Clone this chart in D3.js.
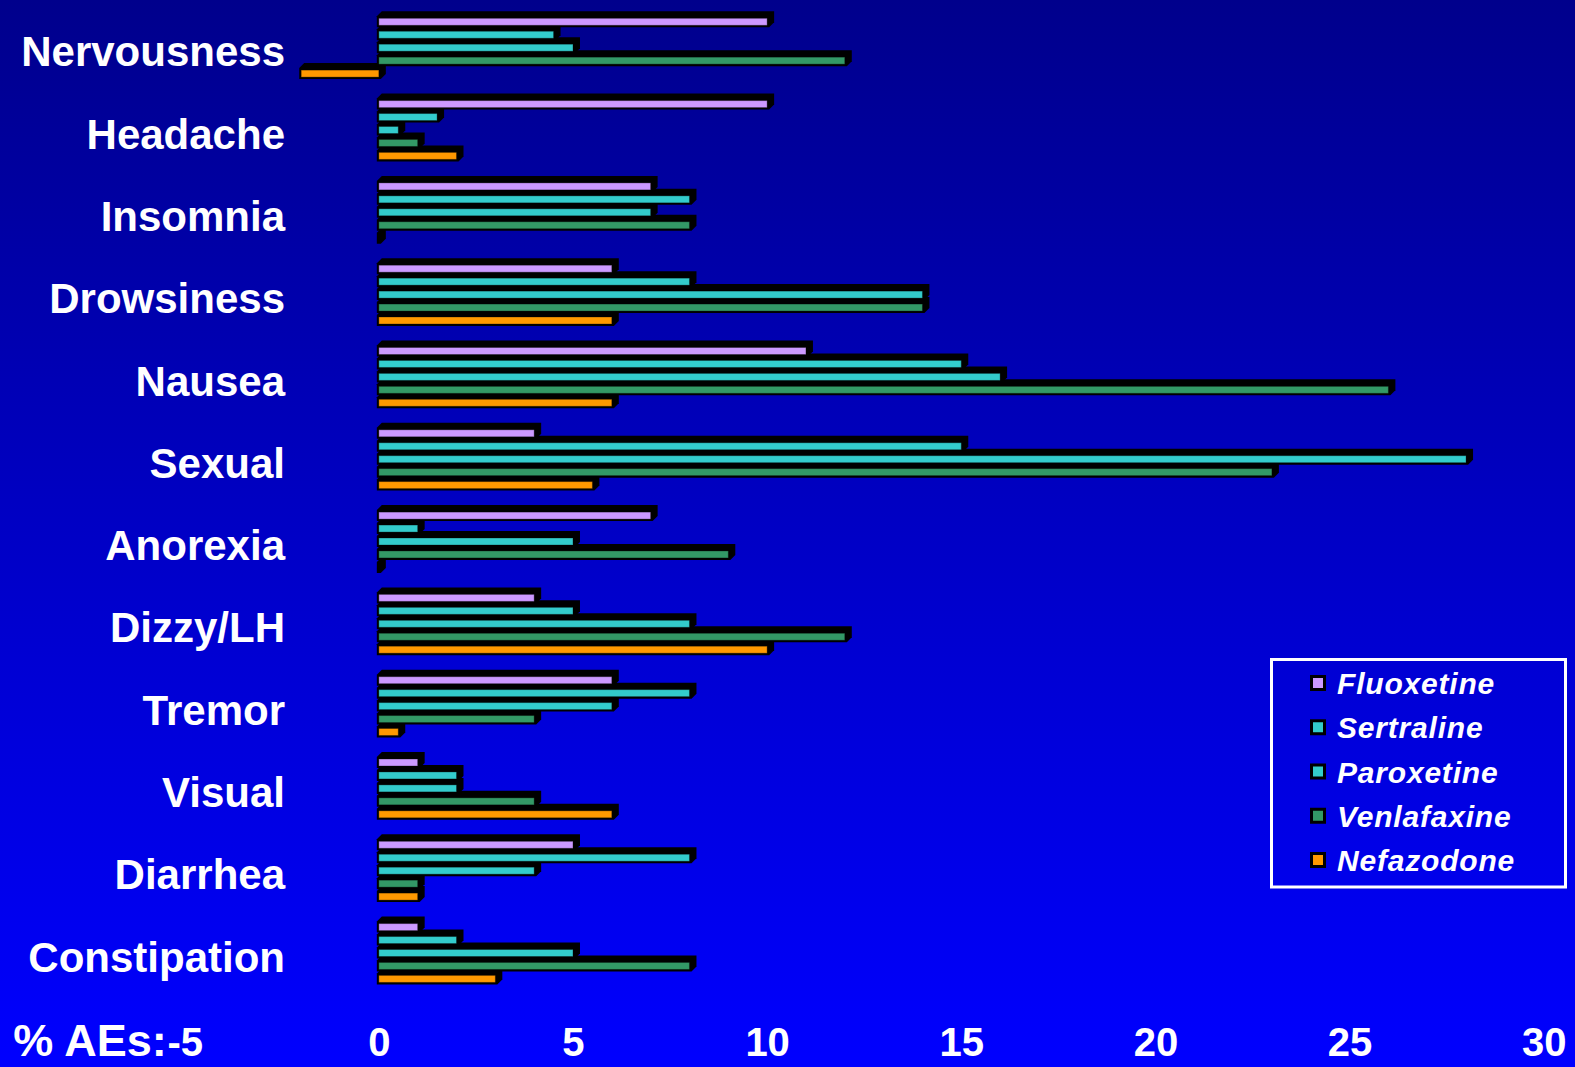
<!DOCTYPE html>
<html>
<head>
<meta charset="utf-8">
<script src="https://cdn.jsdelivr.net/npm/d3@7"></script>
<style>
  html, body { margin: 0; padding: 0; background: #0000c0; }
  svg { display: block; }
  text { font-family: "Liberation Sans", Arial, sans-serif; font-weight: bold; fill: #fff; }
</style>
</head>
<body>
<svg id="chart" width="1575" height="1067"></svg>
<script>
// Adverse events (%) by antidepressant
const categories = ["Nervousness", "Headache", "Insomnia", "Drowsiness", "Nausea", "Sexual",
  "Anorexia", "Dizzy/LH", "Tremor", "Visual", "Diarrhea", "Constipation"];
const seriesNames = ["Fluoxetine", "Sertraline", "Paroxetine", "Venlafaxine", "Nefazodone"];
const fluoxetine  = [10, 10, 7, 6, 11, 4, 7, 4, 6, 1, 5, 1];
const sertraline  = [4.5, 1.5, 8, 8, 15, 15, 1, 5, 8, 2, 8, 2];
const paroxetine  = [5, 0.5, 7, 14, 16, 28, 5, 8, 6, 2, 4, 5];
const venlafaxine = [12, 1, 8, 14, 26, 23, 9, 12, 4, 4, 1, 8];
const nefazodone  = [-2, 2, 0, 6, 6, 5.5, 0, 10, 0.5, 6, 1, 3];
const seriesColors = ["#cc99ff", "#33cccc", "#33cccc", "#339966", "#ff9900"];
const tickValues = [-5, 0, 5, 10, 15, 20, 25, 30];
const axisTitle = "% AEs:";

const seriesValues = [fluoxetine, sertraline, paroxetine, venlafaxine, nefazodone];

const W = 1575, H = 1067;
const svg = d3.select("#chart");

// background: deep navy fading to bright blue
const defs = svg.append("defs");
const grad = defs.append("linearGradient").attr("id", "bg")
  .attr("x1", 0).attr("y1", 0).attr("x2", 0).attr("y2", 1);
grad.append("stop").attr("offset", "0%").attr("stop-color", "#00008c");
grad.append("stop").attr("offset", "100%").attr("stop-color", "#0000ff");
svg.append("rect").attr("width", W).attr("height", H).attr("fill", "url(#bg)");

// scales
const x = d3.scaleLinear().domain([-5, 30]).range([184.7, 1543.7]);
const yGroup = d3.scaleBand().domain(categories).range([12, 12 + 12 * 82.3]).padding(0);
const ySeries = d3.scaleBand().domain(seriesNames).range([0, 5 * 12.95]).padding(0);

const barH = 7, edge = 2, depth = 5, barOffset = 6.3;

// bars, drawn bottom series first so upper bars sit over the lower bars' top faces
const bars = [];
categories.forEach((cat, ci) => {
  for (let si = seriesNames.length - 1; si >= 0; si--) {
    bars.push({ cat, ci, si, v: seriesValues[si][ci] });
  }
});

const gBars = svg.append("g");
bars.forEach(b => {
  const xa = x(Math.min(0, b.v)), xb = x(Math.max(0, b.v));
  const yc = yGroup(b.cat) + barOffset + ySeries(seriesNames[b.si]);
  const X0 = xa - edge, X1 = xb + edge, Y0 = yc - edge, Y1 = yc + barH + edge;
  const p = d3.path();
  p.moveTo(X0, Y1);
  p.lineTo(X0, Y0);
  p.lineTo(X0 + depth, Y0 - depth);
  p.lineTo(X1 + depth, Y0 - depth);
  p.lineTo(X1 + depth, Y1 - depth);
  p.lineTo(X1, Y1);
  p.closePath();
  gBars.append("path").attr("d", p.toString()).attr("fill", "#000");
  if (xb - xa > 0) {
    gBars.append("rect")
      .attr("x", xa).attr("y", yc)
      .attr("width", xb - xa).attr("height", barH)
      .attr("fill", seriesColors[b.si])
      .attr("stroke", "rgba(0,0,0,0.3)").attr("stroke-width", 1);
  }
});

// category labels
svg.append("g").selectAll("text").data(categories).join("text")
  .attr("x", 285)
  .attr("y", d => yGroup(d) + barOffset + 48)
  .attr("text-anchor", "end")
  .attr("font-size", 42)
  .text(d => d);

// value axis along the bottom
const axis = d3.axisBottom(x).tickValues(tickValues).tickSize(0).tickPadding(0)
  .tickFormat(d => String(d));
const gAxis = svg.append("g").attr("transform", "translate(0,1022)").call(axis);
gAxis.select(".domain").remove();
gAxis.selectAll("text")
  .attr("dy", null).attr("y", 34)
  .style("font-family", "'Liberation Sans', Arial, sans-serif")
  .style("font-weight", "bold")
  .style("font-size", "40px")
  .attr("fill", "#fff");

svg.append("text")
  .attr("x", x(-5) - 18).attr("y", 1056)
  .attr("text-anchor", "end")
  .attr("font-size", 45)
  .text(axisTitle);

// legend
const lg = svg.append("g");
lg.append("rect")
  .attr("x", 1271.5).attr("y", 659.5).attr("width", 294).attr("height", 227.5)
  .attr("fill", "none").attr("stroke", "#fff").attr("stroke-width", 3);
const yLeg = d3.scalePoint().domain(seriesNames).range([683, 860]);
seriesNames.forEach((name, i) => {
  const cy = yLeg(name);
  lg.append("rect").attr("x", 1310).attr("y", cy - 8).attr("width", 16).attr("height", 16)
    .attr("fill", "#000");
  lg.append("rect").attr("x", 1313).attr("y", cy - 5).attr("width", 10).attr("height", 10)
    .attr("fill", seriesColors[i]);
  lg.append("text")
    .attr("x", 1337).attr("y", cy + 11)
    .attr("font-size", 30).attr("font-style", "italic")
    .attr("letter-spacing", 0.8)
    .text(name);
});
</script>
</body>
</html>
